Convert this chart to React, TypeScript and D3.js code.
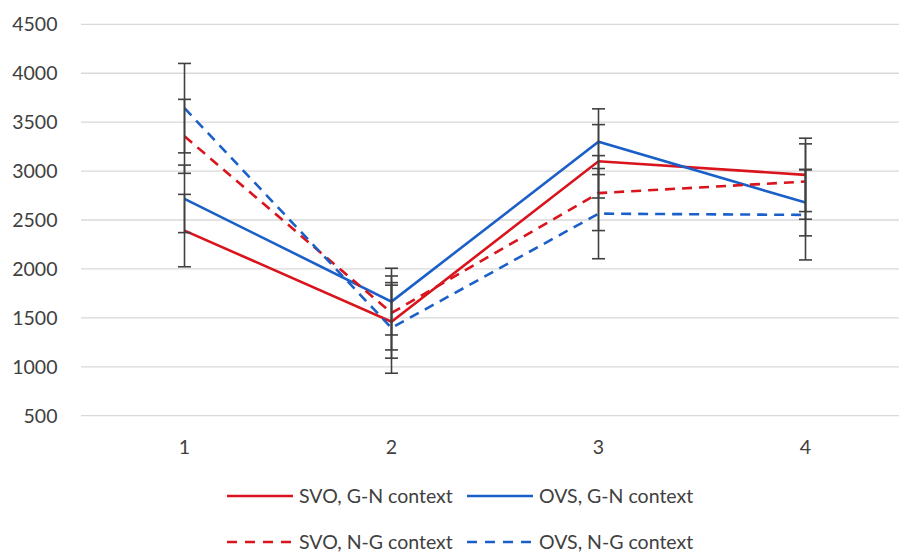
import React from "react";
import * as d3 from "d3";

const categories = ["1", "2", "3", "4"];
const yTicks = [500, 1000, 1500, 2000, 2500, 3000, 3500, 4000, 4500];

const svoGN = [2392, 1461, 3100, 2961];
const ovsGN = [2716, 1666, 3300, 2678];
const svoNG = [3355, 1550, 2775, 2893];
const ovsNG = [3643, 1397, 2565, 2552];

const svoGNErr = [370, 373, 375, 375];
const ovsGNErr = [345, 341, 336, 340];
const svoNGErr = [378, 378, 383, 385];
const ovsNGErr = [457, 463, 461, 460];

const RED = "#d9141c";
const BLUE = "#1b5fc9";

const series = [
  { name: "SVO, G-N context", values: svoGN, err: svoGNErr, color: RED, dashed: false },
  { name: "OVS, G-N context", values: ovsGN, err: ovsGNErr, color: BLUE, dashed: false },
  { name: "SVO, N-G context", values: svoNG, err: svoNGErr, color: RED, dashed: true },
  { name: "OVS, N-G context", values: ovsNG, err: ovsNGErr, color: BLUE, dashed: true },
];

const width = 899;
const height = 552;
const font = "Lato, 'Open Sans', sans-serif";

export default function App() {
  const x = d3.scaleBand<string>().domain(categories).range([81, 909]);
  const y = d3.scaleLinear().domain([500, 4500]).range([415.7, 24.3]);
  const cx = (c: string) => (x(c) ?? 0) + x.bandwidth() / 2;

  const line = d3
    .line<number>()
    .x((_, i) => cx(categories[i]))
    .y((d) => y(d));

  return (
    <svg
      width={width}
      height={height}
      style={{ position: "absolute", left: 0, top: 0, background: "#fff" }}
    >
      {yTicks.map((t) => (
        <g key={t}>
          <line x1={81} x2={width} y1={y(t)} y2={y(t)} stroke="#d9d9d9" strokeWidth={1.3} />
          <text
            x={57.5}
            y={y(t)}
            dy="0.35em"
            textAnchor="end"
            fontFamily={font}
            fontSize={19.5}
            fill="#404040"
          >
            {t}
          </text>
        </g>
      ))}
      {categories.map((c) => (
        <text
          key={c}
          x={cx(c)}
          y={447}
          dy="0.35em"
          textAnchor="middle"
          fontFamily={font}
          fontSize={19.5}
          fill="#404040"
        >
          {c}
        </text>
      ))}
      {series.map((s) => (
        <path
          key={s.name}
          d={line(s.values) ?? ""}
          fill="none"
          stroke={s.color}
          strokeWidth={2.6}
          strokeDasharray={s.dashed ? "10,7" : undefined}
        />
      ))}
      {series.map((s) =>
        s.values.map((v, i) => {
          const px = cx(categories[i]);
          const top = y(v + s.err[i]);
          const bot = y(v - s.err[i]);
          return (
            <g key={s.name + i} stroke="#404040" strokeWidth={1.6}>
              <line x1={px} x2={px} y1={top} y2={bot} />
              <line x1={px - 6.5} x2={px + 6.5} y1={top} y2={top} />
              <line x1={px - 6.5} x2={px + 6.5} y1={bot} y2={bot} />
            </g>
          );
        })
      )}
      {series.map((s, i) => {
        const lx = i % 2 === 0 ? 227 : 467;
        const ly = i < 2 ? 496 : 542;
        return (
          <g key={s.name}>
            <line
              x1={lx}
              x2={lx + 66}
              y1={ly}
              y2={ly}
              stroke={s.color}
              strokeWidth={2.6}
              strokeDasharray={s.dashed ? "10,8" : undefined}
            />
            <text
              x={lx + 72}
              y={ly}
              dy="0.35em"
              fontFamily={font}
              fontSize={19.5}
              fill="#404040"
            >
              {s.name}
            </text>
          </g>
        );
      })}
    </svg>
  );
}
